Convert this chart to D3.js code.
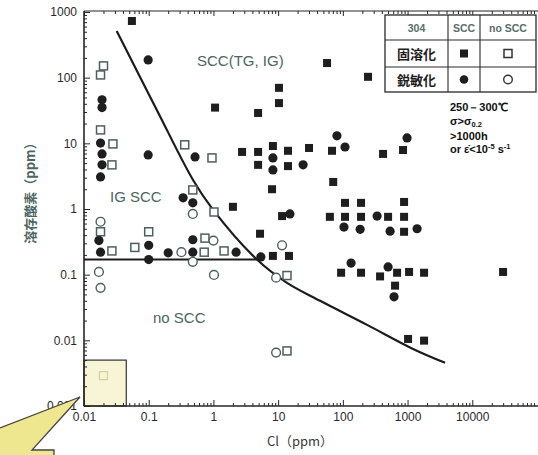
<!DOCTYPE html>
<html>
<head>
<meta charset="utf-8">
<script src="https://cdn.jsdelivr.net/npm/d3@7"></script>
<style>
  body { margin: 0; background: #fff; }
  svg { display: block; }
</style>
</head>
<body>
<svg id="chart" width="538" height="455"></svg>
<script>
// Type 304 stainless steel, [Cl (ppm), dissolved oxygen (ppm)]
// solution-annealed, SCC
const annealedScc = [
  [0.055, 730], [57, 167], [245, 103], [10.3, 70], [10.3, 41], [1.06, 35],
  [4.9, 29], [2.77, 7.4], [4.9, 7.4], [4.9, 4.7], [8.3, 9.1], [14.2, 7.7],
  [14.2, 4.5], [30, 8.5], [68, 7.7], [418, 6.9], [851, 7.9], [8.05, 2.0],
  [71, 2.58], [2.0, 1.08], [11.5, 0.78], [5.25, 0.42], [108, 1.24], [191, 1.24],
  [883, 1.28], [63, 0.76], [108, 0.76], [191, 0.76], [500, 0.76], [883, 0.76],
  [883, 0.45], [8.3, 0.193], [14.7, 0.193], [94, 0.107], [191, 0.107],
  [376, 0.094], [689, 0.107], [1055, 0.11], [1799, 0.107], [641, 0.068],
  [29900, 0.11], [1018, 0.0105], [1799, 0.0099]
];
// solution-annealed, no SCC
const annealedNoScc = [
  [0.020, 151], [0.018, 110], [0.018, 16], [0.028, 9.8], [0.027, 4.7],
  [0.36, 9.5], [0.95, 6.0], [0.48, 1.95], [1.02, 0.90], [0.018, 0.45],
  [0.027, 0.23], [0.061, 0.26], [0.1, 0.45], [0.74, 0.36], [0.72, 0.22],
  [1.46, 0.23], [13.7, 0.097], [13.7, 0.0069]
];
// sensitized, SCC
const sensitizedScc = [
  [0.098, 186], [0.019, 46], [0.019, 35], [0.018, 10.1], [0.019, 6.9],
  [0.019, 4.7], [0.018, 3.08], [0.098, 6.65], [0.52, 6.2], [81, 13],
  [108, 8.8], [982, 12.1], [8.3, 6.0], [8.3, 3.94], [24.3, 4.7], [15.2, 0.84],
  [104, 0.53], [185, 0.49], [338, 0.78], [537, 0.46], [1403, 0.50],
  [134, 0.15], [500, 0.131], [618, 0.046], [0.34, 1.48], [0.48, 1.24],
  [0.017, 0.33], [0.018, 0.22], [0.1, 0.28], [0.1, 0.17], [0.2, 0.215],
  [0.48, 0.34], [0.48, 0.22], [2.24, 0.22], [5.4, 0.186]
];
// sensitized, no SCC
const sensitizedNoScc = [
  [0.018, 0.64], [0.017, 0.11], [0.018, 0.063], [0.48, 0.84], [0.32, 0.22],
  [1.0, 0.33], [0.48, 0.157], [1.02, 0.099], [11.5, 0.28], [9.3, 0.09],
  [9.3, 0.0065]
];
// low-level point inside the highlighted corner
const insetPoint = [[0.02, 0.0029]];
const insetBox = [[0.01, 0.001], [0.045, 0.005]];

// SCC / no-SCC boundary and the IG SCC threshold
const boundaryCurve = [
  [0.032, 514], [0.134, 32], [0.484, 2.77], [0.99, 0.97], [4.7, 0.17],
  [13.7, 0.075], [44.5, 0.040], [237, 0.0172], [1216, 0.0074], [3800, 0.00455]
];
const igThreshold = [[0.01, 0.17], [4.7, 0.17]];

const xTicks = [0.01, 0.1, 1, 10, 100, 1000, 10000];
const xTickLabels = ["0.01", "0.1", "1", "10", "100", "1000", "10000"];
const yTicks = [0.001, 0.01, 0.1, 1, 10, 100, 1000];
const yTickLabels = ["0.001", "0.01", "0.1", "1", "10", "100", "1000"];

const svg = d3.select("#chart");
const x = d3.scaleLog().domain([0.01, 1e5]).range([84, 537]);
const y = d3.scaleLog().domain([0.001, 1000]).range([406, 12]);

const ink = "#262626";
const openInk = "#4e605d";
const tealText = "#4b6662";

function minorTicks(lo, hi) {
  const t = [];
  for (let e = lo; e < hi; e++) for (let k = 2; k <= 9; k++) t.push(k * Math.pow(10, e));
  return t;
}

// highlighted low-concentration corner
svg.append("rect")
  .attr("x", x(insetBox[0][0])).attr("y", y(insetBox[1][1]))
  .attr("width", x(insetBox[1][0]) - x(insetBox[0][0]))
  .attr("height", y(insetBox[0][1]) - y(insetBox[1][1]))
  .attr("fill", "#f7f5d6").attr("stroke", "#333").attr("stroke-width", 1.2);

// axes
function styleAxis(g) {
  g.selectAll(".domain").remove();
  g.selectAll(".tick line").attr("stroke", ink).attr("stroke-width", 1);
  g.selectAll("text").attr("fill", "#2a2a2a")
    .style("font-family", "'Liberation Sans', Arial, sans-serif").style("font-size", "12px");
}
const xMinor = minorTicks(-2, 5);
const yMinor = minorTicks(-3, 3);

svg.append("g").attr("transform", "translate(0,406)")
  .call(d3.axisBottom(x).tickValues(xMinor).tickSize(-3).tickFormat(""))
  .call(styleAxis);
svg.append("g").attr("transform", "translate(0,406)")
  .call(d3.axisBottom(x).tickValues(xTicks).tickSize(-6).tickPadding(6)
    .tickFormat((d, i) => xTickLabels[i]))
  .call(styleAxis);
svg.append("g").attr("transform", "translate(0,11)")
  .call(d3.axisTop(x).tickValues(xMinor).tickSize(-3).tickFormat(""))
  .call(styleAxis);
svg.append("g").attr("transform", "translate(0,11)")
  .call(d3.axisTop(x).tickValues(xTicks).tickSize(-5).tickFormat(""))
  .call(styleAxis);
svg.append("g").attr("transform", "translate(84,0)")
  .call(d3.axisLeft(y).tickValues(yMinor).tickSize(-3).tickFormat(""))
  .call(styleAxis);
svg.append("g").attr("transform", "translate(84,0)")
  .call(d3.axisLeft(y).tickValues(yTicks).tickSize(-6).tickPadding(7)
    .tickFormat((d, i) => yTickLabels[i]))
  .call(styleAxis);

// frame lines
svg.append("line").attr("x1", 84).attr("x2", 538).attr("y1", 406).attr("y2", 406)
  .attr("stroke", ink).attr("stroke-width", 1.6);
svg.append("line").attr("x1", 84).attr("x2", 538).attr("y1", 11).attr("y2", 11)
  .attr("stroke", ink).attr("stroke-width", 1.2);
svg.append("line").attr("x1", 84).attr("x2", 84).attr("y1", 11).attr("y2", 406)
  .attr("stroke", ink).attr("stroke-width", 1.6);

// boundaries
const line = d3.line().x(d => x(d[0])).y(d => y(d[1]));
svg.append("path").datum(boundaryCurve)
  .attr("d", line.curve(d3.curveCatmullRom.alpha(0.5)))
  .attr("fill", "none").attr("stroke", "#1c1c1c").attr("stroke-width", 2.2);
svg.append("path").datum(igThreshold)
  .attr("d", d3.line().x(d => x(d[0])).y(d => y(d[1])))
  .attr("fill", "none").attr("stroke", "#1c1c1c").attr("stroke-width", 2);

// markers
const sqFilled = 8, sqOpen = 8, rFilled = 4.6, rOpen = 4.4;
const marks = svg.append("g");
marks.selectAll(".ao").data(annealedNoScc).join("rect").attr("class", "ao")
  .attr("x", d => x(d[0]) - sqOpen / 2).attr("y", d => y(d[1]) - sqOpen / 2)
  .attr("width", sqOpen).attr("height", sqOpen)
  .attr("fill", "#fff").attr("stroke", openInk).attr("stroke-width", 1.5);
marks.selectAll(".so").data(sensitizedNoScc).join("circle").attr("class", "so")
  .attr("cx", d => x(d[0])).attr("cy", d => y(d[1])).attr("r", rOpen)
  .attr("fill", "#fff").attr("stroke", openInk).attr("stroke-width", 1.4);
marks.selectAll(".as").data(annealedScc).join("rect").attr("class", "as")
  .attr("x", d => x(d[0]) - sqFilled / 2).attr("y", d => y(d[1]) - sqFilled / 2)
  .attr("width", sqFilled).attr("height", sqFilled).attr("fill", "#1e1e1e");
marks.selectAll(".ss").data(sensitizedScc).join("circle").attr("class", "ss")
  .attr("cx", d => x(d[0])).attr("cy", d => y(d[1])).attr("r", rFilled)
  .attr("fill", "#1e1e1e");
marks.selectAll(".ip").data(insetPoint).join("rect").attr("class", "ip")
  .attr("x", d => x(d[0]) - 4).attr("y", d => y(d[1]) - 4)
  .attr("width", 8).attr("height", 8)
  .attr("fill", "none").attr("stroke", "#d6d2a6").attr("stroke-width", 1.3);

// region labels
const regionFont = "'Liberation Sans', Arial, sans-serif";
[["SCC(TG, IG)", 197, 66], ["IG SCC", 110, 202], ["no SCC", 153, 323]].forEach(([t, px, py]) => {
  svg.append("text").attr("x", px).attr("y", py).text(t)
    .attr("fill", tealText).style("font-family", regionFont).style("font-size", "15px");
});

// axis titles
svg.append("text").attr("transform", "translate(35,190) rotate(-90)")
  .attr("text-anchor", "middle").text("溶存酸素（ppm）")
  .attr("fill", tealText).style("font-family", "'Noto Sans CJK JP', sans-serif")
  .style("font-size", "13px").style("font-weight", "bold");
svg.append("text").attr("x", 300).attr("y", 446).attr("text-anchor", "middle")
  .text("Cl（ppm）").attr("fill", "#3a3a3a")
  .style("font-family", "'Noto Sans CJK JP', sans-serif").style("font-size", "13px");

// legend table
const lg = svg.append("g");
const colX = [385, 448, 480, 536], rowY = [15, 40, 67, 92];
lg.append("rect").attr("x", colX[0]).attr("y", rowY[0])
  .attr("width", colX[3] - colX[0]).attr("height", rowY[3] - rowY[0])
  .attr("fill", "#fff").attr("stroke", "#2a2a2a").attr("stroke-width", 1.3);
[colX[1], colX[2]].forEach(cx => lg.append("line").attr("x1", cx).attr("x2", cx)
  .attr("y1", rowY[0]).attr("y2", rowY[3]).attr("stroke", "#2a2a2a").attr("stroke-width", 1.1));
[rowY[1], rowY[2]].forEach(ry => lg.append("line").attr("x1", colX[0]).attr("x2", colX[3])
  .attr("y1", ry).attr("y2", ry).attr("stroke", "#2a2a2a").attr("stroke-width", 1.1));
const midX = i => (colX[i] + colX[i + 1]) / 2, midY = j => (rowY[j] + rowY[j + 1]) / 2;
["304", "SCC", "no SCC"].forEach((t, i) => lg.append("text")
  .attr("x", midX(i)).attr("y", midY(0) + 4).attr("text-anchor", "middle").text(t)
  .attr("fill", "#5a6d6a").style("font-family", regionFont)
  .style("font-size", "10.5px").style("font-weight", "bold"));
["固溶化", "鋭敏化"].forEach((t, j) => lg.append("text")
  .attr("x", midX(0)).attr("y", midY(j + 1) + 5).attr("text-anchor", "middle").text(t)
  .attr("fill", "#1e1e1e").style("font-family", "'Noto Sans CJK JP', sans-serif")
  .style("font-size", "13px").style("font-weight", "bold"));
lg.append("rect").attr("x", midX(1) - 4).attr("y", midY(1) - 4).attr("width", 8).attr("height", 8)
  .attr("fill", "#1e1e1e");
lg.append("rect").attr("x", midX(2) - 4).attr("y", midY(1) - 4).attr("width", 8).attr("height", 8)
  .attr("fill", "#fff").attr("stroke", "#333").attr("stroke-width", 1.5);
lg.append("circle").attr("cx", midX(1)).attr("cy", midY(2)).attr("r", 4.3).attr("fill", "#1e1e1e");
lg.append("circle").attr("cx", midX(2)).attr("cy", midY(2)).attr("r", 4.3)
  .attr("fill", "#fff").attr("stroke", "#333").attr("stroke-width", 1.4);

// test conditions
const cond = svg.append("g").attr("fill", "#111")
  .style("font-family", regionFont).style("font-size", "11px").style("font-weight", "bold");
cond.append("text").attr("x", 450).attr("y", 111).text("250－300℃");
const c2 = cond.append("text").attr("x", 450).attr("y", 125);
c2.append("tspan").text("σ>σ");
c2.append("tspan").attr("dy", 2).style("font-size", "7.5px").text("0.2");
cond.append("text").attr("x", 450).attr("y", 140).text(">1000h");
const c4 = cond.append("text").attr("x", 450).attr("y", 153);
c4.append("tspan").text("or ε̇<10");
c4.append("tspan").attr("dy", -4).style("font-size", "7.5px").text("-5");
c4.append("tspan").attr("dy", 4).text(" s");
c4.append("tspan").attr("dy", -4).style("font-size", "7.5px").text("-1");

// callout pointing at the highlighted corner
svg.append("path")
  .attr("d", "M0,428 L80,397 L32,450 L54,450 L54,456 L0,456 Z")
  .attr("fill", "#efe78f").attr("stroke", "none");
svg.append("path")
  .attr("d", "M0,428 L80,397 L32,450 L54,450 L54,456")
  .attr("fill", "none").attr("stroke", "#444").attr("stroke-width", 1.3);
</script>
</body>
</html>
